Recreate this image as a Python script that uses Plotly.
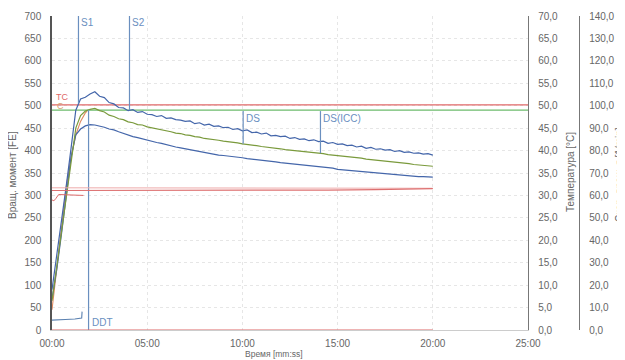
import plotly.graph_objects as go

# ---------------- data ----------------
T_MAIN = [0.00, 0.25, 0.50, 0.75, 1.00, 1.25, 1.50, 1.75, 2.00, 2.25, 2.50, 2.75, 3.00, 3.25, 3.50, 3.75,
          4.00, 4.25, 4.50, 4.75, 5.00, 5.25, 5.50, 5.75, 6.00, 6.25, 6.50, 6.75, 7.00, 7.25, 7.50, 7.75,
          8.00, 8.25, 8.50, 8.75, 9.00, 9.25, 9.50, 9.75, 10.00, 10.25, 10.50, 10.75, 11.00, 11.25, 11.50, 11.75,
          12.00, 12.25, 12.50, 12.75, 13.00, 13.25, 13.50, 13.75, 14.00, 14.25, 14.50, 14.75, 15.00, 15.25, 15.50, 15.75,
          16.00, 16.25, 16.50, 16.75, 17.00, 17.25, 17.50, 17.75, 18.00, 18.25, 18.50, 18.75, 19.00, 19.25, 19.50, 19.75, 20.00]

torque_upper = [90, 165, 240, 322, 405, 490, 515, 519, 526, 531, 521, 518, 507, 504, 496, 495,
                489, 491, 485, 487, 481, 480, 476, 478, 472, 473, 469, 468, 465, 466, 460, 462,
                457, 459, 454, 455, 451, 452, 447, 449, 444, 446, 440, 441, 437, 439, 433, 434,
                431, 432, 427, 429, 425, 426, 422, 424, 420, 421, 416, 418, 414, 415, 411, 412,
                408, 410, 405, 407, 403, 404, 401, 402, 398, 400, 396, 397, 394, 395, 392, 393, 390]

torque_mid = [65, 140, 215, 290, 370, 450, 478, 488, 492, 494, 489, 486, 479, 476, 471, 469,
              464, 462, 458, 457, 453, 451, 448, 447, 444, 442, 439, 438, 435, 434, 431, 430,
              427, 426, 424, 423, 421, 420, 418, 417, 415, 414, 412, 411, 409, 408, 406, 405,
              404, 402, 401, 399, 398, 397, 396, 395, 394, 393, 391, 390, 389, 388, 386, 385,
              384, 383, 381, 380, 379, 378, 377, 376, 374, 373, 372, 371, 369, 368, 367, 366, 365]

torque_lower = [70, 135, 215, 300, 385, 435, 448, 455, 458, 457, 455, 452, 448, 446, 442, 438,
                435, 431, 429, 426, 423, 421, 418, 416, 413, 411, 408, 406, 404, 402, 400, 397,
                395, 394, 392, 390, 389, 388, 386, 385, 384, 382, 381, 380, 378, 377, 376, 375,
                373, 372, 371, 370, 369, 368, 367, 366, 364, 363, 362, 361, 358, 357, 356, 355,
                354, 353, 352, 351, 350, 349, 349, 348, 347, 346, 345, 344, 343, 342, 342, 341, 341]

T_RISE = [0.00, 0.25, 0.50, 0.75, 1.00, 1.25, 1.50, 1.75, 1.85]
torque_rise = [45, 135, 230, 320, 385, 435, 465, 484, 488]

T_TEMP_SHORT = [0.00, 0.10, 0.20, 0.35, 1.00, 1.65]
temp_short = [29.0, 28.8, 29.3, 30.2, 30.1, 30.0]

T_TEMP_LONG = [0.0, 5.0, 10.0, 14.5, 17.0, 19.0, 20.0]
temp_long_a = [31.7, 31.7, 31.7, 31.7, 31.6, 31.6, 31.6]
temp_long_b = [31.1, 31.1, 31.1, 31.2, 31.3, 31.4, 31.5]

T_SPEED = [0.00, 0.60, 0.70, 1.20, 1.50, 1.56, 1.58]
speed = [4.4, 4.4, 4.7, 4.9, 5.1, 5.3, 8.2]

T_ZERO = [0.0, 20.0]
zero_line = [0, 0]

T_REF = [0.0, 25.0]
tc_line = [502, 502]
c_line = [490, 490]

markers = ["S1", "S2", "DDT", "DS", "DS(ICC)"]
marker_t = [1.39, 4.07, 1.92, 10.04, 14.1]
marker_y0 = [505, 490, 0, 488, 488]
marker_y1 = [700, 700, 490, 415, 394]
label_y = [686, 686, 16, 472, 472]

x_tickvals = [0, 5, 10, 15, 20, 25]
x_ticktext = ["00:00", "05:00", "10:00", "15:00", "20:00", "25:00"]
y_tickvals = [0, 50, 100, 150, 200, 250, 300, 350, 400, 450, 500, 550, 600, 650, 700]
temp_tickvals = [0, 5, 10, 15, 20, 25, 30, 35, 40, 45, 50, 55, 60, 65, 70]
temp_ticktext = ["0,0", "5,0", "10,0", "15,0", "20,0", "25,0", "30,0", "35,0", "40,0", "45,0",
                 "50,0", "55,0", "60,0", "65,0", "70,0"]
speed_tickvals = [0, 10, 20, 30, 40, 50, 60, 70, 80, 90, 100, 110, 120, 130, 140]
speed_ticktext = ["0,0", "10,0", "20,0", "30,0", "40,0", "50,0", "60,0", "70,0", "80,0", "90,0",
                  "100,0", "110,0", "120,0", "130,0", "140,0"]

# ---------------- styling ----------------
BLUE = "#4466aa"
GREEN = "#7a9a3c"
MARK = "#6a8fbf"
RED = "#e06868"
GREENREF = "#6dbb6d"
TXT = "#666666"
FONT = "Liberation Sans, Arial, sans-serif"

OFF = 8                     # page body margin of the html page
W, H = 625 - OFF, 360 - OFF
ML, MR, MT, MB = 52 - OFF, 20, 16 - OFF, 30
PW = W - ML - MR
PH = H - MT - MB
XDOM = (528 - OFF - ML) / PW


def px(xp):
    return (xp - OFF - ML) / PW


def py(yp):
    return (H - MB - (yp - OFF)) / PH


fig = go.Figure()

# reference horizontals
fig.add_trace(go.Scatter(x=T_REF, y=tc_line, mode="lines", line=dict(color=RED, width=1.3), hoverinfo="skip"))
fig.add_trace(go.Scatter(x=T_REF, y=c_line, mode="lines", line=dict(color=GREENREF, width=1.3), hoverinfo="skip"))

# temperature
fig.add_trace(go.Scatter(x=T_TEMP_LONG, y=temp_long_a, yaxis="y2", mode="lines",
                         line=dict(color="#eeaaaa", width=1), hoverinfo="skip"))
fig.add_trace(go.Scatter(x=T_TEMP_LONG, y=temp_long_b, yaxis="y2", mode="lines",
                         line=dict(color="#dd7070", width=1.2), hoverinfo="skip"))
fig.add_trace(go.Scatter(x=T_TEMP_SHORT, y=temp_short, yaxis="y2", mode="lines",
                         line=dict(color="#dd6a6a", width=1), hoverinfo="skip"))
fig.add_trace(go.Scatter(x=T_ZERO, y=zero_line, yaxis="y2", mode="lines",
                         line=dict(color="#dd6a6a", width=1.2), hoverinfo="skip"))

# speed
fig.add_trace(go.Scatter(x=T_SPEED, y=speed, yaxis="y3", mode="lines",
                         line=dict(color="#5a80b0", width=1.1), hoverinfo="skip"))

# torque curves
fig.add_trace(go.Scatter(x=T_RISE, y=torque_rise, mode="lines", line=dict(color="#e08a60", width=1.1), hoverinfo="skip"))
fig.add_trace(go.Scatter(x=T_MAIN, y=torque_lower, mode="lines", line=dict(color=BLUE, width=1.2), hoverinfo="skip"))
fig.add_trace(go.Scatter(x=T_MAIN, y=torque_mid, mode="lines", line=dict(color=GREEN, width=1.2), hoverinfo="skip"))
fig.add_trace(go.Scatter(x=T_MAIN, y=torque_upper, mode="lines", line=dict(color=BLUE, width=1.2), hoverinfo="skip"))

# vertical markers
for name, t, y0, y1, ly in zip(markers, marker_t, marker_y0, marker_y1, label_y):
    fig.add_trace(go.Scatter(x=[t, t], y=[y0, y1], mode="lines", line=dict(color=MARK, width=1.2),
                             hoverinfo="skip"))
    fig.add_annotation(x=t, y=ly, xref="x", yref="y", text=name, showarrow=False,
                       xanchor="left", yanchor="middle", xshift=1,
                       font=dict(family=FONT, size=10, color=MARK))

fig.add_annotation(x=0.1, y=519, text="TC", showarrow=False, xanchor="left", yanchor="middle",
                   font=dict(family=FONT, size=9, color=RED))
fig.add_annotation(x=0.15, y=499, text="C", showarrow=False, xanchor="left", yanchor="middle",
                   font=dict(family=FONT, size=9, color="#d4a070"))

# axis titles
title_font = dict(family=FONT, size=10, color=TXT)
fig.add_annotation(x=px(12), y=py(175), xref="paper", yref="paper", text="Вращ. момент [FE]",
                   textangle=-90, showarrow=False, xanchor="center", yanchor="middle", font=title_font)
fig.add_annotation(x=px(570), y=py(172), xref="paper", yref="paper", text="Температура [°C]",
                   textangle=-90, showarrow=False, xanchor="center", yanchor="middle", font=title_font)
fig.add_annotation(x=px(619), y=py(175), xref="paper", yref="paper", text="Скор. вращ-я [1/min]",
                   textangle=-90, showarrow=False, xanchor="center", yanchor="middle", font=title_font)
fig.add_annotation(x=px(274), y=py(354), xref="paper", yref="paper", text="Время [mm:ss]",
                   showarrow=False, xanchor="center", yanchor="middle",
                   font=dict(family=FONT, size=8.5, color=TXT))

tickfont = dict(family=FONT, size=10, color=TXT)

fig.update_layout(
    width=W, height=H,
    margin=dict(l=ML, r=MR, t=MT, b=MB, autoexpand=False),
    paper_bgcolor="white", plot_bgcolor="white",
    showlegend=False,
    xaxis=dict(domain=[0, XDOM], range=[0, 25], tickvals=x_tickvals, ticktext=x_ticktext,
               showgrid=True, gridcolor="#e6e6e6", griddash="dot", zeroline=False,
               showline=True, linecolor="#cccccc", linewidth=1,
               ticks="outside", ticklen=4, tickcolor="rgba(0,0,0,0)", tickfont=tickfont),
    yaxis=dict(range=[0, 700], tickvals=y_tickvals, showgrid=True, gridcolor="#e6e6e6", griddash="dot",
               zeroline=False, showline=True, linecolor="#555555", linewidth=1.5,
               ticks="outside", ticklen=7, tickcolor="rgba(0,0,0,0)", tickfont=tickfont),
    yaxis2=dict(range=[0, 70], overlaying="y", side="right", anchor="x",
                tickvals=temp_tickvals, ticktext=temp_ticktext, showgrid=False, zeroline=False,
                showline=True, linecolor="#777777", linewidth=1.3,
                ticks="outside", ticklen=7, tickcolor="rgba(0,0,0,0)", tickfont=tickfont),
    yaxis3=dict(range=[0, 140], overlaying="y", side="right", anchor="free", position=px(579),
                tickvals=speed_tickvals, ticktext=speed_ticktext, showgrid=False, zeroline=False,
                showline=True, linecolor="#777777", linewidth=1.3,
                ticks="outside", ticklen=7, tickcolor="rgba(0,0,0,0)", tickfont=tickfont),
)

fig.write_html("out.html")
